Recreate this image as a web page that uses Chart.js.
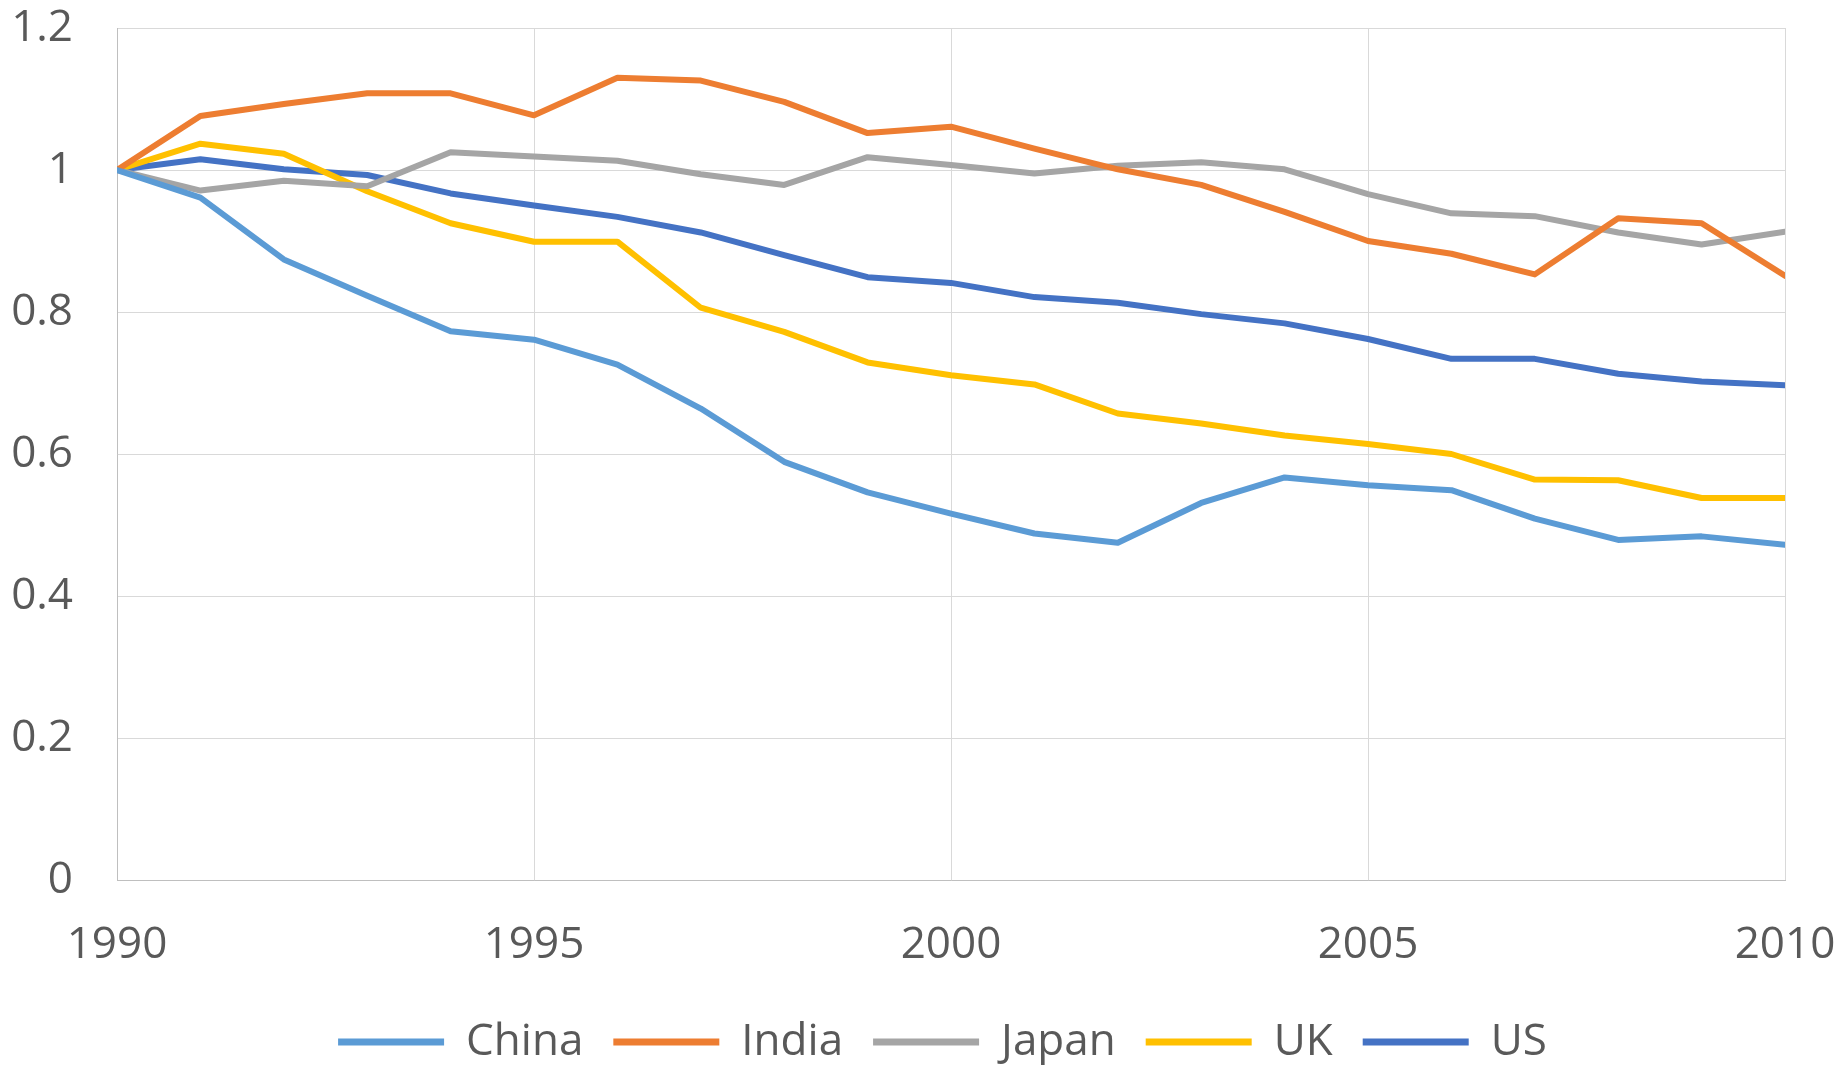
<!DOCTYPE html>
<html>
<head>
<meta charset="utf-8">
<script src="https://cdn.jsdelivr.net/npm/chart.js@4/dist/chart.umd.min.js"></script>
<style>
  html, body { margin: 0; padding: 0; background: #ffffff; }
  #wrap { width: 1846px; height: 1065px; position: relative; }
</style>
</head>
<body>
<div id="wrap"><canvas id="c" width="1846" height="1065"></canvas></div>
<script>
const years = [1990,1991,1992,1993,1994,1995,1996,1997,1998,1999,2000,2001,2002,2003,2004,2005,2006,2007,2008,2009,2010];
const china = [1.000,0.961,0.874,0.823,0.773,0.761,0.726,0.664,0.589,0.546,0.516,0.488,0.475,0.531,0.567,0.556,0.549,0.509,0.479,0.484,0.472];
const india = [1.000,1.076,1.093,1.108,1.108,1.077,1.130,1.126,1.096,1.052,1.061,1.030,1.001,0.979,0.941,0.900,0.882,0.853,0.932,0.925,0.851];
const japan = [1.000,0.971,0.985,0.977,1.025,1.019,1.013,0.994,0.979,1.018,1.007,0.995,1.006,1.011,1.001,0.966,0.939,0.935,0.912,0.895,0.913];
const uk    = [1.000,1.037,1.023,0.970,0.925,0.899,0.899,0.806,0.772,0.729,0.711,0.698,0.657,0.643,0.626,0.614,0.600,0.564,0.563,0.538,0.538];
const us    = [1.000,1.015,1.001,0.993,0.967,0.950,0.934,0.912,0.880,0.849,0.841,0.821,0.813,0.797,0.784,0.762,0.734,0.734,0.713,0.702,0.697];
const seriesNames = ['China','India','Japan','UK','US'];
const seriesColors = ['#5B9BD5','#ED7D31','#A5A5A5','#FFC000','#4472C4'];
const yTickLabels = {0:'0',0.2:'0.2',0.4:'0.4',0.6:'0.6',0.8:'0.8',1:'1',1.2:'1.2'};

const allSeries = [china, india, japan, uk, us];
const datasets = allSeries.map((vals, i) => ({
  label: seriesNames[i],
  data: years.map((y, j) => ({x: y, y: vals[j]})),
  borderColor: seriesColors[i],
  backgroundColor: seriesColors[i],
  borderWidth: 6,
  pointRadius: 0,
  pointHoverRadius: 0,
  tension: 0,
  borderJoinStyle: 'round',
  borderCapStyle: 'round',
  fill: false
}));

const FONT = '"Open Sans", "Noto Sans", "DejaVu Sans", sans-serif';
const FS = 44;

// shift the (library-drawn) legend so it is centred under the plot area like the original
const legendShift = {
  id: 'legendShift',
  beforeDraw(chart) {
    const lg = chart.legend;
    if (lg && !lg._shifted) {
      lg.left += 50; lg.right += 50;
      lg._shifted = true;
    }
  }
};

new Chart(document.getElementById('c'), {
  type: 'line',
  data: { datasets },
  plugins: [legendShift],
  options: {
    responsive: false,
    animation: false,
    devicePixelRatio: 1,
    layout: { padding: { left: 0, right: 61, top: 28, bottom: -9 } },
    plugins: {
      tooltip: { enabled: false },
      legend: {
        position: 'bottom',
        labels: {
          color: '#595959',
          font: { family: FONT, size: FS },
          boxWidth: 106,
          boxHeight: 7,
          padding: 30,
          generateLabels(chart) {
            return chart.data.datasets.map((d, i) => ({
              text: d.label,
              fillStyle: d.borderColor,
              strokeStyle: d.borderColor,
              lineWidth: 0,
              hidden: false,
              datasetIndex: i,
              fontColor: '#595959'
            }));
          }
        }
      }
    },
    scales: {
      x: {
        type: 'linear',
        min: 1990,
        max: 2010,
        grid: { color: '#D9D9D9', lineWidth: 1, drawTicks: false },
        border: { color: '#BFBFBF', width: 1 },
        ticks: {
          stepSize: 5,
          color: '#595959',
          font: { family: FONT, size: FS },
          padding: 39,
          maxRotation: 0,
          callback: v => String(v)
        },
        afterFit(scale) {
          scale.height = 110;
          scale.paddingLeft = 0;
          scale.paddingRight = 0;
        }
      },
      y: {
        min: 0,
        max: 1.2,
        grid: { color: '#D9D9D9', lineWidth: 1, drawTicks: false },
        border: { color: '#BFBFBF', width: 1 },
        ticks: {
          stepSize: 0.2,
          color: '#595959',
          font: { family: FONT, size: FS },
          padding: 44,
          callback: v => yTickLabels[Math.round(v * 10) / 10] ?? ''
        },
        afterFit(scale) {
          scale.width = 117;
          scale.paddingTop = 0;
          scale.paddingBottom = 0;
        }
      }
    }
  }
});
</script>
</body>
</html>
